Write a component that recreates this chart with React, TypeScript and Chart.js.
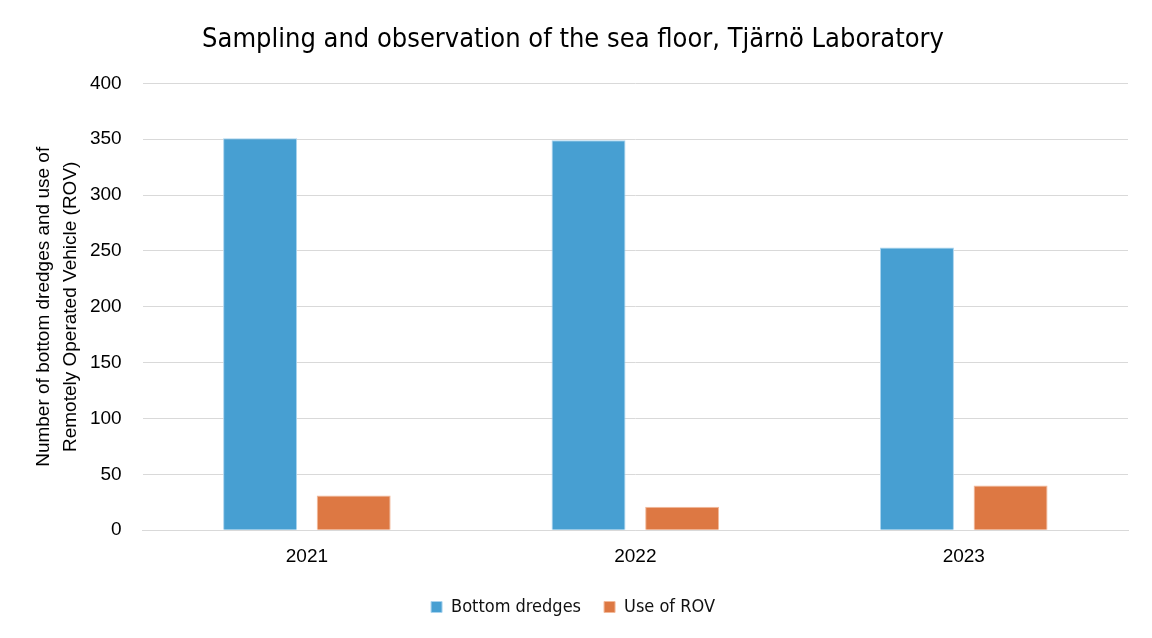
import React, { useEffect, useRef } from "react";
import { Chart, registerables } from "chart.js";

Chart.register(...registerables);

const categories = ["2021", "2022", "2023"];
const bottomDredges = [351, 349, 253];
const useOfROV = [31, 21, 40];
const yTicks = [0, 50, 100, 150, 200, 250, 300, 350, 400];

export default function App() {
  const ref = useRef<HTMLCanvasElement>(null);
  useEffect(() => {
    if (!ref.current) return;
    const chart = new Chart(ref.current, {
      type: "bar",
      data: {
        labels: categories,
        datasets: [
          {
            label: "Bottom dredges",
            data: bottomDredges,
            backgroundColor: "#479FD2",
            borderColor: "#A9D3EE",
            borderWidth: 1,
            categoryPercentage: 0.57,
            barPercentage: 0.79,
          },
          {
            label: "Use of ROV",
            data: useOfROV,
            backgroundColor: "#DD7843",
            borderColor: "#F2B99A",
            borderWidth: 1,
            categoryPercentage: 0.57,
            barPercentage: 0.79,
          },
        ],
      },
      options: {
        animation: false,
        responsive: true,
        maintainAspectRatio: false,
        layout: { padding: { left: 18, right: 24, top: 16, bottom: 12 } },
        plugins: {
          title: {
            display: true,
            text: "Sampling and observation of the sea floor, Tjärnö Laboratory",
            color: "#000",
            font: { family: "'Liberation Sans Narrow', 'DejaVu Sans Condensed', sans-serif", size: 27, weight: "normal" },
            padding: { top: 8, bottom: 27 },
          },
          legend: {
            position: "bottom",
            labels: {
              boxWidth: 11,
              boxHeight: 11,
              color: "#111",
              padding: 23,
              font: { family: "'Liberation Sans Narrow', 'DejaVu Sans Condensed', sans-serif", size: 18 },
            },
          },
          tooltip: { enabled: false },
        },
        scales: {
          x: {
            grid: { display: false },
            border: { display: true, color: "#D9D9D9", width: 1 },
            ticks: { color: "#000", font: { family: "'Liberation Sans', Arial, sans-serif", size: 19 }, padding: 7 },
          },
          y: {
            min: 0,
            max: 400,
            afterBuildTicks: (axis: any) => {
              axis.ticks = yTicks.map((v) => ({ value: v }));
            },
            grid: { color: "#D9D9D9", lineWidth: 1, drawTicks: false },
            border: { display: false },
            ticks: { color: "#000", font: { family: "'Liberation Sans', Arial, sans-serif", size: 19 }, padding: 21 },
            title: {
              display: true,
              text: ["Number of bottom dredges and use of", "Remotely Operated Vehicle (ROV)"],
              color: "#000",
              font: { family: "'Liberation Sans', Arial, sans-serif", size: 19, lineHeight: 1.42 },
              padding: { top: 12, bottom: -15 },
            },
          },
        },
      },
    });
    return () => chart.destroy();
  }, []);
  return (
    <div style={{ position: "fixed", left: 0, top: 0, width: 1152, height: 638, background: "#fff" }}>
      <canvas ref={ref} />
    </div>
  );
}
